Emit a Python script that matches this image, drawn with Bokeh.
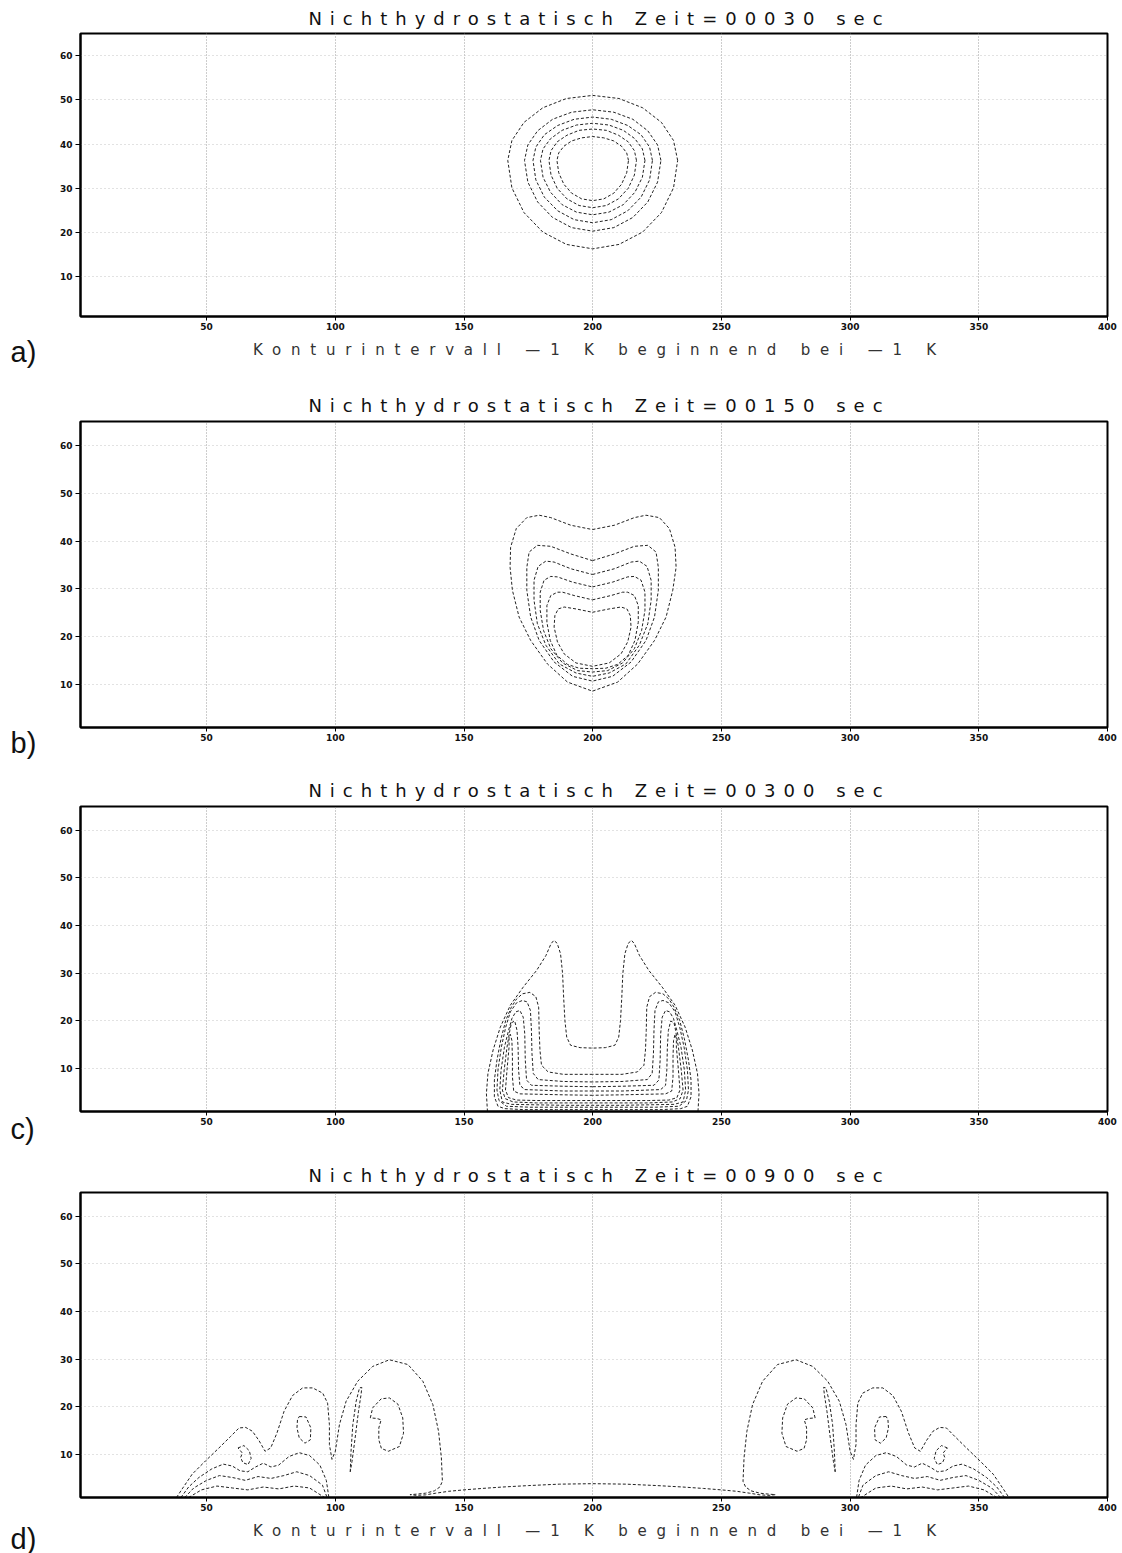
from bokeh.plotting import figure
from bokeh.layouts import column, row
from bokeh.models import Range1d, FixedTicker
from bokeh.core.properties import value
from bokeh.embed import file_html
from bokeh.resources import INLINE

# ---------------------------------------------------------------- texts
TITLES = [
    "Nichthydrostatisch Zeit=00030 sec",
    "Nichthydrostatisch Zeit=00150 sec",
    "Nichthydrostatisch Zeit=00300 sec",
    "Nichthydrostatisch Zeit=00900 sec",
]
CAPTION = "Konturintervall —1 K beginnend bei —1 K"
TAGS = ["a)", "b)", "c)", "d)"]

# ---------------------------------------------------------------- axes
X_TICKS = [50, 100, 150, 200, 250, 300, 350, 400]
Y_TICKS = [10, 20, 30, 40, 50, 60]
X_START, X_END = 1, 400
Y_START, Y_END = 1, 65

# ---------------------------------------------------------------- contours, t = 30 s
A_XS = [
    [233.0, 231.4, 226.7, 219.4, 210.2, 200.0, 189.8, 180.6, 173.3, 168.6, 167.0, 168.6, 173.3, 180.6, 189.8, 200.0, 210.2, 219.4, 226.7, 231.4, 233.0],
    [226.5, 225.2, 221.4, 215.6, 208.2, 200.0, 191.8, 184.4, 178.6, 174.8, 173.5, 174.8, 178.6, 184.4, 191.8, 200.0, 208.2, 215.6, 221.4, 225.2, 226.5],
    [223.2, 222.1, 218.8, 213.6, 207.2, 200.0, 192.8, 186.4, 181.2, 177.9, 176.8, 177.9, 181.2, 186.4, 192.8, 200.0, 207.2, 213.6, 218.8, 222.1, 223.2],
    [220.3, 219.3, 216.4, 211.9, 206.3, 200.0, 193.7, 188.1, 183.6, 180.7, 179.7, 180.7, 183.6, 188.1, 193.7, 200.0, 206.3, 211.9, 216.4, 219.3, 220.3],
    [217.0, 216.2, 213.8, 210.0, 205.3, 200.0, 194.7, 190.0, 186.2, 183.8, 183.0, 183.8, 186.2, 190.0, 194.7, 200.0, 205.3, 210.0, 213.8, 216.2, 217.0],
    [213.9, 213.2, 211.2, 208.2, 204.3, 200.0, 195.7, 191.8, 188.8, 186.8, 186.1, 186.8, 188.8, 191.8, 195.7, 200.0, 204.3, 208.2, 211.2, 213.2, 213.9],
]
A_YS = [
    [36.3, 40.8, 44.9, 48.2, 50.3, 51.0, 50.3, 48.2, 44.9, 40.8, 36.3, 30.1, 24.5, 20.1, 17.3, 16.3, 17.3, 20.1, 24.5, 30.1, 36.3],
    [36.3, 39.8, 43.0, 45.6, 47.2, 47.75, 47.2, 45.6, 43.0, 39.8, 36.3, 31.4, 26.9, 23.4, 21.1, 20.3, 21.1, 23.4, 26.9, 31.4, 36.3],
    [36.3, 39.3, 42.1, 44.2, 45.6, 46.1, 45.6, 44.2, 42.1, 39.3, 36.3, 31.9, 28.0, 24.9, 22.9, 22.2, 22.9, 24.9, 28.0, 31.9, 36.3],
    [36.3, 38.9, 41.2, 43.1, 44.3, 44.7, 44.3, 43.1, 41.2, 38.9, 36.3, 32.5, 29.1, 26.3, 24.6, 24.0, 24.6, 26.3, 29.1, 32.5, 36.3],
    [36.3, 38.5, 40.5, 42.0, 43.1, 43.4, 43.1, 42.0, 40.5, 38.5, 36.3, 33.0, 30.0, 27.6, 26.1, 25.6, 26.1, 27.6, 30.0, 33.0, 36.3],
    [36.3, 38.0, 39.5, 40.7, 41.4, 41.7, 41.4, 40.7, 39.5, 38.0, 36.3, 33.5, 30.9, 28.9, 27.6, 27.2, 27.6, 28.9, 30.9, 33.5, 36.3],
]

# ---------------------------------------------------------------- contours, t = 150 s
B_XS = [
    [199.9, 208.4, 216.2, 220.7, 225.9, 229.8, 232.0, 232.4, 231.1, 228.5, 224.0, 217.5, 209.7, 199.9, 190.2, 182.4, 175.9, 171.4, 168.8, 167.9, 168.1, 170.3, 174.4, 179.2, 183.7, 191.5, 199.9],
    [199.9, 208.4, 216.2, 221.4, 224.6, 225.5, 225.5, 224.0, 220.7, 214.9, 207.7, 199.9, 192.2, 185.0, 179.2, 175.9, 174.4, 174.4, 175.3, 178.5, 183.7, 191.5, 199.9],
    [199.9, 208.4, 214.9, 218.1, 221.1, 222.7, 222.7, 221.4, 218.1, 212.9, 206.4, 199.9, 193.5, 187.0, 181.8, 178.5, 177.2, 177.2, 178.8, 181.8, 185.0, 191.5, 199.9],
    [199.9, 207.7, 213.6, 216.2, 218.8, 220.3, 220.3, 219.0, 216.2, 211.6, 205.8, 199.9, 194.1, 188.3, 183.7, 180.9, 179.6, 179.6, 181.1, 183.7, 186.3, 192.2, 199.9],
    [199.9, 207.1, 211.6, 213.6, 216.2, 217.7, 217.7, 216.4, 213.8, 209.7, 205.1, 199.9, 194.7, 190.2, 186.1, 183.5, 182.2, 182.2, 183.7, 186.3, 188.3, 192.8, 199.9],
    [199.9, 206.4, 211.0, 213.3, 214.6, 214.9, 213.6, 211.0, 206.4, 199.9, 193.5, 188.9, 186.3, 185.0, 185.3, 186.6, 188.9, 193.5, 199.9],
]
B_YS = [
    [42.4, 43.3, 44.9, 45.4, 44.9, 42.6, 38.7, 34.5, 29.7, 24.1, 19.2, 14.3, 10.5, 8.6, 10.5, 14.3, 19.2, 24.1, 29.7, 34.5, 38.7, 42.6, 44.9, 45.4, 44.9, 43.3, 42.4],
    [35.9, 37.3, 38.9, 39.1, 37.7, 34.5, 29.7, 24.1, 19.2, 14.7, 11.7, 10.7, 11.7, 14.7, 19.2, 24.1, 29.7, 34.5, 37.7, 39.1, 38.9, 37.3, 35.9],
    [33.0, 34.2, 35.6, 35.8, 34.7, 31.8, 27.6, 22.7, 18.2, 14.3, 12.4, 11.7, 12.4, 14.3, 18.2, 22.7, 27.6, 31.8, 34.7, 35.8, 35.6, 34.2, 33.0],
    [30.4, 31.4, 32.5, 32.6, 31.8, 29.3, 25.5, 21.3, 17.5, 14.5, 12.9, 12.6, 12.9, 14.5, 17.5, 21.3, 25.5, 29.3, 31.8, 32.6, 32.5, 31.4, 30.4],
    [27.7, 28.6, 29.3, 29.3, 28.6, 26.5, 23.0, 19.2, 16.1, 14.2, 13.4, 13.3, 13.4, 14.2, 16.1, 19.2, 23.0, 26.5, 28.6, 29.3, 29.3, 28.6, 27.7],
    [25.1, 25.8, 26.2, 25.8, 24.4, 22.0, 18.9, 16.4, 14.5, 13.8, 14.5, 16.4, 18.9, 22.0, 24.4, 25.8, 26.2, 25.8, 25.1],
]

# ---------------------------------------------------------------- contours, t = 300 s
C_XS = [
    [159.1, 158.7, 159.3, 161.3, 164.1, 168.0, 173.0, 178.2, 181.8, 183.8, 184.9, 186.2, 187.5, 188.3, 188.7, 189.2, 189.9, 191.4, 195.1, 200.0,
     204.9, 208.6, 210.1, 210.8, 211.3, 211.7, 212.5, 213.8, 215.1, 216.2, 218.2, 221.8, 227.0, 232.0, 235.9, 238.7, 240.7, 241.3, 240.9],
    [200.0, 188.6, 182.7, 180.1, 179.5, 179.2, 179.0, 177.9, 175.6, 172.7, 170.4, 168.4, 166.2, 164.4, 162.8, 161.8, 161.8, 163.2, 165.8, 173.0, 186.0, 200.0,
     214.0, 227.0, 234.2, 236.8, 238.2, 238.2, 237.2, 235.6, 233.8, 231.6, 229.6, 227.3, 224.4, 222.1, 221.0, 220.8, 220.5, 219.9, 217.3, 211.4, 200.0],
    [200.0, 188.6, 178.8, 176.9, 176.4, 176.2, 175.8, 174.5, 172.7, 170.4, 168.0, 166.2, 164.5, 163.2, 162.8, 163.6, 166.5, 175.6, 188.6, 200.0,
     211.4, 224.4, 233.5, 236.4, 237.2, 236.8, 235.5, 233.8, 232.0, 229.6, 227.3, 225.5, 224.2, 223.8, 223.6, 223.1, 221.2, 211.4, 200.0],
    [200.0, 188.6, 176.2, 174.3, 173.8, 173.6, 173.0, 171.7, 170.1, 168.6, 167.3, 165.7, 164.4, 163.9, 164.9, 168.4, 178.2, 188.6, 200.0,
     211.4, 221.8, 231.6, 235.1, 236.1, 235.6, 234.3, 232.7, 231.4, 229.9, 228.3, 227.0, 226.4, 226.2, 225.7, 223.8, 211.4, 200.0],
    [200.0, 188.6, 173.6, 171.7, 171.2, 171.0, 170.6, 169.7, 168.4, 167.8, 166.7, 165.6, 164.9, 166.0, 169.1, 178.2, 188.6, 200.0,
     211.4, 221.8, 230.9, 234.0, 235.1, 234.4, 233.3, 232.2, 231.6, 230.3, 229.4, 229.0, 228.8, 228.3, 226.4, 211.4, 200.0],
    [200.0, 188.6, 171.7, 169.3, 168.8, 168.8, 168.6, 168.0, 167.5, 167.5, 166.7, 166.1, 167.3, 170.4, 178.2, 188.6, 200.0,
     211.4, 221.8, 229.6, 232.7, 233.9, 233.3, 232.5, 232.5, 232.0, 231.4, 231.2, 231.2, 230.7, 228.3, 211.4, 200.0],
]
C_YS = [
    [1.0, 4.8, 9.0, 13.9, 18.7, 23.3, 27.1, 30.6, 33.7, 36.2, 36.9, 36.3, 34.1, 29.9, 25.0, 20.1, 16.6, 14.9, 14.4, 14.3,
     14.4, 14.9, 16.6, 20.1, 25.0, 29.9, 34.1, 36.3, 36.9, 36.2, 33.7, 30.6, 27.1, 23.3, 18.7, 13.9, 9.0, 4.8, 1.0],
    [8.8, 8.8, 9.3, 10.7, 13.9, 18.0, 22.9, 25.1, 26.0, 25.7, 24.6, 22.9, 20.1, 16.3, 11.8, 7.6, 4.1, 2.1, 1.6, 1.4, 1.4, 1.4,
     1.4, 1.4, 1.6, 2.1, 4.1, 7.6, 11.8, 16.3, 20.1, 22.9, 24.6, 25.7, 26.0, 25.1, 22.9, 18.0, 13.9, 10.7, 9.3, 8.8, 8.8],
    [7.2, 7.3, 7.7, 9.0, 13.2, 18.0, 22.2, 24.0, 24.3, 23.8, 21.9, 18.7, 14.5, 9.7, 5.5, 3.3, 2.1, 1.9, 1.9, 1.9,
     1.9, 1.9, 2.1, 3.3, 5.5, 9.7, 14.5, 18.7, 21.9, 23.8, 24.3, 24.0, 22.2, 18.0, 13.2, 9.0, 7.7, 7.3, 7.2],
    [6.2, 6.3, 6.5, 7.6, 11.8, 17.3, 20.8, 22.2, 21.9, 20.5, 18.0, 14.5, 9.7, 5.5, 3.0, 2.5, 2.4, 2.3, 2.3,
     2.3, 2.4, 2.5, 3.0, 5.5, 9.7, 14.5, 18.0, 20.5, 21.9, 22.2, 20.8, 17.3, 11.8, 7.6, 6.5, 6.3, 6.2],
    [5.3, 5.3, 5.6, 6.5, 9.7, 14.5, 18.0, 20.0, 19.6, 18.0, 14.5, 9.7, 5.5, 3.7, 3.0, 2.8, 2.8, 2.8,
     2.8, 2.8, 3.0, 3.7, 5.5, 9.7, 14.5, 18.0, 19.6, 20.0, 18.0, 14.5, 9.7, 6.5, 5.6, 5.3, 5.3],
    [4.4, 4.5, 4.7, 5.3, 8.3, 12.5, 15.9, 17.2, 16.3, 14.5, 9.7, 5.5, 3.9, 3.4, 3.3, 3.3, 3.3,
     3.3, 3.3, 3.4, 3.9, 5.5, 9.7, 14.5, 16.3, 17.2, 15.9, 12.5, 8.3, 5.3, 4.7, 4.5, 4.4],
]

# ---------------------------------------------------------------- contours, t = 900 s
D_XS = [
    # outer envelope: left heads, hairpin and flat band near the ground, right heads
    [38.3, 40.5, 44.4, 49.6, 54.8, 59.3, 62.6, 65.2, 67.8, 70.4, 72.7, 74.9, 77.3, 80.1, 83.4, 87.3, 91.2, 95.1, 97.0, 97.7, 97.7, 98.7,
     100.0, 101.6, 104.2, 108.7, 114.5, 121.0, 128.2, 134.0, 137.9, 140.1, 141.2, 141.6, 140.6, 138.5, 135.0, 131.5, 129.0,
     131.5, 135.0, 139.0, 144.0, 150.0, 157.0, 165.0, 175.0, 187.0, 200.0, 213.0, 225.0, 235.0, 243.0, 250.0, 256.0, 261.0, 265.0, 268.5,
     271.0, 268.5, 265.0, 261.5, 259.4, 258.4, 258.8, 259.9, 262.1, 266.0, 271.8, 279.0, 285.5, 291.3, 295.8, 298.4, 300.0,
     301.3, 302.3, 302.3, 303.0, 304.9, 308.8, 312.7, 316.6, 319.9, 322.7, 325.1, 327.3, 329.6, 332.2, 334.8, 337.4, 340.7, 345.2, 350.4, 355.6, 359.5, 361.7],
    # curls inside the large heads
    [113.6, 114.5, 117.8, 121.0, 124.3, 126.2, 126.5, 124.9, 120.6, 117.9, 116.9, 116.9, 117.8, 116.0, 113.6],
    [286.4, 285.5, 282.2, 279.0, 275.7, 273.8, 273.5, 275.1, 279.4, 282.1, 283.1, 283.1, 282.2, 284.0, 286.4],
    # thin slivers
    [105.8, 106.1, 106.8, 108.1, 109.4, 110.3, 110.0, 109.0, 107.7, 106.5, 105.8],
    [294.2, 293.9, 293.2, 291.9, 290.6, 289.7, 290.0, 291.0, 292.3, 293.5, 294.2],
    # small ovals in the middle heads
    [86.0, 88.6, 90.5, 90.3, 88.2, 86.0, 85.1, 85.3, 86.0],
    [314.0, 311.4, 309.5, 309.7, 311.8, 314.0, 314.9, 314.7, 314.0],
    # curls in the outer heads
    [62.2, 64.5, 66.6, 67.3, 66.1, 64.1, 63.2, 63.9, 63.0, 62.2],
    [337.8, 335.5, 333.4, 332.7, 333.9, 335.9, 336.8, 336.1, 337.0, 337.8],
    # wavy lower contours, left
    [40.0, 43.0, 47.0, 52.0, 56.5, 60.0, 63.0, 66.0, 69.0, 72.0, 75.0, 78.0, 82.0, 86.0, 90.0, 94.0, 96.5, 97.5],
    [41.5, 45.0, 50.0, 55.0, 60.0, 65.0, 70.0, 75.0, 80.0, 85.0, 90.0, 95.0, 96.8],
    [43.0, 48.0, 54.0, 60.0, 66.0, 72.0, 78.0, 84.0, 90.0, 95.8],
    # wavy lower contours, right
    [360.0, 357.0, 353.0, 348.0, 343.5, 340.0, 337.0, 334.0, 331.0, 328.0, 325.0, 322.0, 318.0, 314.0, 310.0, 306.0, 303.5, 302.5],
    [358.5, 355.0, 350.0, 345.0, 340.0, 335.0, 330.0, 325.0, 320.0, 315.0, 310.0, 305.0, 303.2],
    [357.0, 352.0, 346.0, 340.0, 334.0, 328.0, 322.0, 316.0, 310.0, 304.2],
]
D_YS = [
    [1.0, 2.8, 5.9, 8.7, 11.4, 13.8, 15.6, 15.7, 14.9, 12.9, 10.7, 11.4, 14.5, 19.1, 22.4, 24.0, 24.0, 22.9, 20.8, 16.3, 12.1, 9.0,
     10.7, 16.3, 21.2, 25.4, 28.5, 29.9, 28.9, 25.4, 20.5, 14.9, 9.4, 4.4, 3.2, 2.4, 1.9, 1.7, 1.6,
     1.45, 1.55, 1.9, 2.3, 2.6, 2.9, 3.2, 3.5, 3.8, 3.9, 3.8, 3.5, 3.2, 2.9, 2.6, 2.3, 1.9, 1.55, 1.45,
     1.6, 1.7, 1.9, 2.4, 3.2, 4.4, 9.4, 14.9, 20.5, 25.4, 28.9, 29.9, 28.5, 25.4, 21.2, 16.3, 10.7,
     9.0, 12.1, 16.3, 20.8, 22.9, 24.0, 24.0, 22.4, 19.1, 14.5, 11.4, 10.7, 12.9, 14.9, 15.7, 15.6, 13.8, 11.4, 8.7, 5.9, 2.8, 1.0],
    [17.7, 19.8, 21.7, 21.9, 20.6, 17.7, 14.5, 11.7, 10.7, 11.3, 13.1, 15.6, 17.3, 17.6, 17.7],
    [17.7, 19.8, 21.7, 21.9, 20.6, 17.7, 14.5, 11.7, 10.7, 11.3, 13.1, 15.6, 17.3, 17.6, 17.7],
    [6.4, 10.7, 16.3, 21.2, 24.0, 24.1, 22.6, 19.1, 13.5, 8.6, 6.4],
    [6.4, 10.7, 16.3, 21.2, 24.0, 24.1, 22.6, 19.1, 13.5, 8.6, 6.4],
    [18.0, 17.9, 15.6, 13.1, 12.4, 13.5, 15.6, 17.3, 18.0],
    [18.0, 17.9, 15.6, 13.1, 12.4, 13.5, 15.6, 17.3, 18.0],
    [11.4, 11.9, 10.8, 9.2, 7.9, 8.3, 9.4, 10.3, 10.9, 11.4],
    [11.4, 11.9, 10.8, 9.2, 7.9, 8.3, 9.4, 10.3, 10.9, 11.4],
    [1.0, 3.2, 5.2, 7.0, 8.0, 7.6, 6.6, 6.4, 7.4, 8.2, 7.4, 7.8, 9.6, 10.4, 9.8, 7.8, 4.6, 1.0],
    [1.0, 3.0, 4.6, 5.6, 5.2, 4.6, 5.4, 5.0, 5.6, 6.4, 5.6, 3.6, 1.0],
    [1.0, 2.6, 3.4, 3.0, 2.6, 3.2, 2.8, 3.4, 3.0, 1.0],
    [1.0, 3.2, 5.2, 7.0, 8.0, 7.6, 6.6, 6.4, 7.4, 8.2, 7.4, 7.8, 9.6, 10.4, 9.8, 7.8, 4.6, 1.0],
    [1.0, 3.0, 4.6, 5.6, 5.2, 4.6, 5.4, 5.0, 5.6, 6.4, 5.6, 3.6, 1.0],
    [1.0, 2.6, 3.4, 3.0, 2.6, 3.2, 2.8, 3.4, 3.0, 1.0],
]

# ---------------------------------------------------------------- page geometry
PAGE_W = 1122
TAG_W = 45
COL_W = PAGE_W - TAG_W
FRAME_L, FRAME_R = 35, 15

# left edge of the spaced-out title and caption lines, column pixels
TITLE_LEFT = 239
CAPTION_LEFT = 181

TITLE_FONT, TITLE_SIZE, TITLE_SPACING = "DejaVu Sans", "18px", 8.0
CAP_FONT, CAP_SIZE, CAP_SPACING = "DejaVu Sans", "15px", 9.8

LINE_COLOR = "#222222"


def text_strip(height, x, y, text, font, size, spacing, color):
    p = figure(width=COL_W, height=height, x_range=Range1d(0, COL_W), y_range=Range1d(height, 0),
               x_axis_location=None, y_axis_location=None, tools="", toolbar_location=None,
               output_backend="svg", min_border=0, outline_line_color=None,
               styles={"letter-spacing": f"{spacing}px"})
    p.grid.visible = False
    p.text(x=[x], y=[y], text=[text], text_font=value(font),
           text_font_size=value(size), text_align="left", text_baseline="middle",
           text_color=color)
    return p


def title_strip(height, y, text):
    return text_strip(height, TITLE_LEFT, y, text, TITLE_FONT, TITLE_SIZE, TITLE_SPACING, "#111111")


def caption_strip(height, y):
    return text_strip(height, CAPTION_LEFT, y, CAPTION, CAP_FONT, CAP_SIZE, CAP_SPACING, "#333333")


def panel(xs, ys, frame_h):
    top, bottom = 3, 18
    p = figure(width=COL_W, height=top + frame_h + bottom,
               x_range=Range1d(X_START, X_END), y_range=Range1d(Y_START, Y_END),
               tools="", toolbar_location=None, output_backend="svg",
               min_border_left=FRAME_L, min_border_right=FRAME_R,
               min_border_top=top, min_border_bottom=bottom,
               background_fill_color="white", border_fill_color="white")
    p.outline_line_color = "black"
    p.outline_line_width = 2

    p.xaxis.ticker = FixedTicker(ticks=X_TICKS)
    p.yaxis.ticker = FixedTicker(ticks=Y_TICKS)
    for ax in (p.xaxis[0], p.yaxis[0]):
        ax.axis_line_width = 2
        ax.major_tick_in = 0
        ax.minor_tick_line_color = None
        ax.major_tick_line_width = 1
        ax.major_label_text_font = "DejaVu Sans"
        ax.major_label_text_font_style = "bold"
        ax.major_label_text_font_size = "9px"
        ax.major_label_text_color = "#111111"
    p.xaxis.major_tick_out = 4
    p.xaxis.major_label_standoff = 2
    p.yaxis.major_tick_out = 5
    p.yaxis.major_label_standoff = 3

    p.xgrid.ticker = FixedTicker(ticks=X_TICKS)
    p.ygrid.ticker = FixedTicker(ticks=Y_TICKS)
    p.xgrid.grid_line_color = "#9a9a9a"
    p.xgrid.grid_line_dash = "1 2"
    p.ygrid.grid_line_color = "#c4c4c4"
    p.ygrid.grid_line_dash = "1 3"

    p.multi_line(xs=xs, ys=ys, line_color=LINE_COLOR, line_width=1, line_dash="3 2")
    return p


# panel tags down the left edge
tag_fig = figure(width=TAG_W, height=1553, x_range=Range1d(0, TAG_W), y_range=Range1d(1553, 0),
                 x_axis_location=None, y_axis_location=None, tools="", toolbar_location=None,
                 output_backend="svg", min_border=0, outline_line_color=None)
tag_fig.grid.visible = False
tag_fig.text(x=[10, 10, 10, 10], y=[351, 742, 1128, 1538], text=TAGS,
             text_font=value("Liberation Sans"), text_font_size=value("29px"),
             text_align="left", text_baseline="middle", text_color="#111111")

col = column(
    title_strip(30, 18, TITLES[0]),
    panel(A_XS, A_YS, 283),
    caption_strip(58, 15),
    title_strip(26, 13, TITLES[1]),
    panel(B_XS, B_YS, 306),
    title_strip(58, 45, TITLES[2]),
    panel(C_XS, C_YS, 305),
    title_strip(60, 46, TITLES[3]),
    panel(D_XS, D_YS, 305),
    caption_strip(38, 15),
    spacing=0,
)

page = row(tag_fig, col, spacing=0)

open("out.html", "w").write(file_html(page, INLINE))
